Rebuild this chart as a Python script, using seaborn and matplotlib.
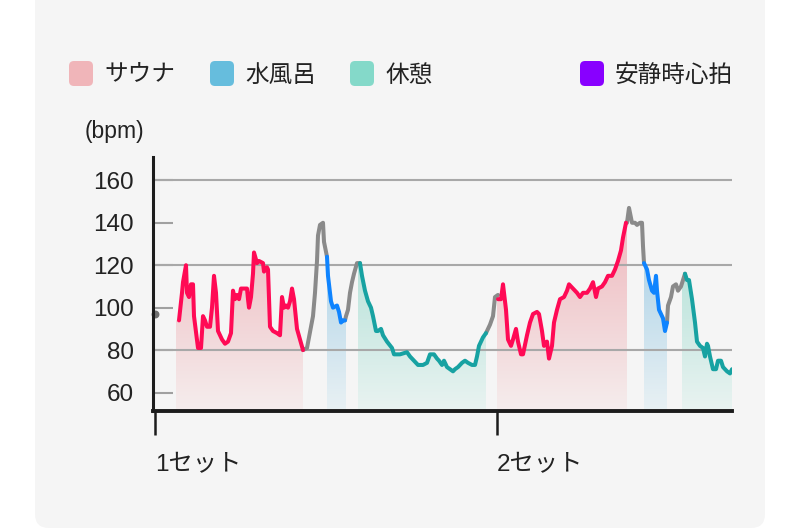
import numpy as np
import pandas as pd
import matplotlib
matplotlib.use("Agg")
import matplotlib.pyplot as plt
import seaborn as sns
from matplotlib.patches import FancyBboxPatch
from matplotlib.colors import to_rgb

# ---------------- data ----------------
start_t = [0]
start_bpm = [97]

sauna1_t = [24, 27, 28, 31, 32, 34, 36, 38, 39, 43, 46, 48, 50, 52, 55, 57, 59, 61, 63, 67, 70, 73, 76, 78,
            80, 82, 84, 86, 92, 93, 94, 96, 98, 99, 102, 104, 108, 109, 112, 113, 115, 118, 122, 125, 127,
            129, 131, 133, 135, 137, 139, 142, 145, 148]
sauna1_bpm = [94, 107, 112, 120, 107, 105, 111, 111, 96, 81, 81, 96, 94, 91, 91, 100, 115, 107, 89, 85, 83, 84,
              88, 108, 104, 106, 104, 109, 109, 104, 100, 105, 116, 126, 121, 122, 121, 117, 119, 118, 91, 89,
              88, 87, 105, 100, 101, 100, 103, 109, 104, 90, 85, 80]
gray1_t = [148, 152, 156, 158, 160, 162, 163, 165, 168, 169, 172]
gray1_bpm = [80, 81, 91, 96, 107, 122, 134, 139, 140, 131, 124]
water1_t = [172, 173, 176, 178, 182, 184, 186, 188, 190]
water1_bpm = [124, 115, 103, 100, 101, 98, 93, 94, 94]
gray2_t = [190, 191, 193, 195, 197, 199, 202, 205]
gray2_bpm = [94, 96, 99, 107, 112, 116, 121, 121]
rest1_t = [205, 207, 210, 213, 216, 218, 221, 223, 226, 228, 232, 237, 239, 245, 252, 255, 259, 263, 268, 272,
           275, 279, 282, 284, 287, 289, 292, 295, 298, 300, 303, 307, 310, 313, 317, 320, 322, 324, 328, 331]
rest1_bpm = [121, 115, 108, 103, 100, 96, 89, 89, 90, 87, 84, 81, 78, 78, 79, 77, 75, 73, 73, 74,
             78, 78, 76, 75, 73, 75, 72, 71, 70, 71, 72, 74, 75, 74, 73, 73, 77, 82, 86, 88]
gray3_t = [331, 335, 338, 340, 343]
gray3_bpm = [88, 92, 96, 105, 106]
sauna2_t = [343, 346, 348, 351, 353, 356, 358, 361, 363, 366, 368, 372, 375, 378, 382, 384, 387, 389, 392, 394,
            397, 399, 402, 405, 409, 412, 414, 418, 422, 425, 428, 432, 435, 438, 441, 443, 447, 450, 453, 457,
            460, 463, 466, 468, 471]
sauna2_bpm = [104, 104, 111, 99, 85, 82, 85, 90, 84, 78, 78, 87, 93, 97, 98, 97, 89, 82, 84, 76,
              82, 93, 99, 104, 105, 108, 111, 109, 107, 105, 107, 107, 109, 112, 105, 109, 110, 112, 115, 115,
              118, 122, 127, 133, 140]
gray4_t = [471, 472, 474, 477, 480, 482, 485, 487, 488, 489]
gray4_bpm = [140, 140, 147, 140, 140, 139, 140, 140, 129, 121]
water2_t = [489, 492, 494, 497, 499, 501, 502, 504, 508, 510, 512]
water2_bpm = [121, 118, 113, 108, 107, 115, 108, 99, 95, 89, 93]
gray5_t = [512, 513, 516, 518, 521, 523, 526, 528, 530]
gray5_bpm = [93, 101, 105, 110, 111, 108, 110, 113, 116]
rest2_t = [530, 532, 534, 537, 540, 542, 545, 548, 550, 552, 553, 555, 558, 561, 563, 566, 568, 572, 575, 577]
rest2_bpm = [116, 113, 113, 104, 93, 84, 82, 81, 77, 83, 82, 77, 71, 71, 75, 75, 72, 70, 69, 71]

phase_fill_start = [21, 172, 203, 342, 489, 527]
phase_fill_end = [148, 191, 331, 472, 512, 577]
phase_fill_kind = ["sauna", "water", "rest", "sauna", "water", "rest"]

set_ticks = [0, 342]
set_labels = ["1セット", "2セット"]
y_ticks = [60, 80, 100, 120, 140, 160]
y_grid = [80, 120, 160]

legend_labels = ["サウナ", "水風呂", "休憩", "安静時心拍"]
legend_colors = ["#f0b5b9", "#66bddd", "#84d9c9", "#8800ff"]

# ---------------- styling ----------------
line_colors = {"sauna": "#ff0a55", "water": "#0f84ff", "rest": "#17a2a2", "gray": "#8a8a8a"}
grad_top = {"sauna": "#f0c2c6", "water": "#b0d4e8", "rest": "#b6e2d9"}
grad_bot = {"sauna": "#f5eded", "water": "#e9f1f4", "rest": "#e9f3f1"}

segments = [("sauna", sauna1_t, sauna1_bpm), ("gray", gray1_t, gray1_bpm),
            ("water", water1_t, water1_bpm), ("gray", gray2_t, gray2_bpm),
            ("rest", rest1_t, rest1_bpm), ("gray", gray3_t, gray3_bpm),
            ("sauna", sauna2_t, sauna2_bpm), ("gray", gray4_t, gray4_bpm),
            ("water", water2_t, water2_bpm), ("gray", gray5_t, gray5_bpm),
            ("rest", rest2_t, rest2_bpm)]

rows = []
for i, (kind, ts, vs) in enumerate(segments):
    for t, v in zip(ts, vs):
        rows.append({"t": t, "bpm": v, "kind": kind, "seg": i})
df = pd.DataFrame(rows)
full = df.drop_duplicates("t").sort_values("t")
full_t = full["t"].to_numpy(float)
full_v = full["bpm"].to_numpy(float)

sns.set_theme(style="white")
plt.rcParams['font.family'] = ['Liberation Sans', 'Noto Sans CJK JP', 'DejaVu Sans']
TXT = "#222222"

fig = plt.figure(figsize=(8, 5.3), dpi=100)
fig.patch.set_facecolor("white")
card = FancyBboxPatch((35, 2), 730, 560, boxstyle="round,pad=0,rounding_size=14",
                      transform=None, facecolor="#f5f5f5", edgecolor="none", zorder=-10)
fig.add_artist(card)

ax = fig.add_axes([153 / 800, 119 / 530, 579 / 800, 254 / 530])
ax.set_zorder(2)
ax.set_facecolor("none")
ax.patch.set_alpha(0)
Y0, Y1 = 51.3, 171.0
X0, X1 = -2, 577

# gradient fills
for t0, t1, kind in zip(phase_fill_start, phase_fill_end, phase_fill_kind):
    tt = np.linspace(t0, t1, 400)
    vv = np.interp(tt, full_t, full_v)
    poly = ax.fill_between(tt, Y0, vv, facecolor="none", edgecolor="none")
    levels = np.linspace(Y0, 150, 256)
    frac = np.clip((levels - Y0) / (125 - Y0), 0, 1)[:, None]
    cols = (1 - frac) * np.array(to_rgb(grad_bot[kind])) + frac * np.array(to_rgb(grad_top[kind]))
    img = cols[:, None, :]
    im = ax.imshow(img, extent=[t0, t1, Y0, 150], origin="lower", aspect="auto",
                   zorder=1, interpolation="bilinear")
    im.set_clip_path(poly.get_paths()[0], transform=ax.transData)

# grid lines
for g in y_grid:
    ax.axhline(g, color="#a8a8a8", lw=1.5, zorder=1.5)

# lines
for i, (kind, ts, vs) in enumerate(segments):
    sub = df[df["seg"] == i]
    sns.lineplot(data=sub, x="t", y="bpm", ax=ax, color=line_colors[kind], lw=2.9,
                 sort=False, estimator=None, zorder=3 if kind != "gray" else 2.8)
ax.scatter(start_t, start_bpm, s=22, color="#707070", zorder=4, clip_on=False)

ax.set_xlim(X0, X1)
ax.set_ylim(Y0, Y1)
ax.set_xlabel("")
ax.set_ylabel("")

for s in ["top", "right"]:
    ax.spines[s].set_visible(False)
ax.spines["left"].set_color("#1c1c1c")
ax.spines["left"].set_linewidth(2.2)
ax.spines["bottom"].set_color("#1c1c1c")
ax.spines["bottom"].set_linewidth(2.8)
ax.spines["left"].set_zorder(5)
ax.spines["bottom"].set_zorder(5)

ax.set_yticks(y_ticks)
ax.set_yticklabels([str(v) for v in y_ticks], fontsize=17.5, color=TXT)
ax.tick_params(axis="y", direction="in", length=14.5, width=1.5, color="#a0a0a0", pad=14, left=True)

ax.set_xticks(set_ticks)
ax.set_xticklabels(set_labels, fontsize=17.5, color=TXT, ha="left",
                   family=['Liberation Sans', 'Noto Sans CJK JP'])
ax.tick_params(axis="x", direction="out", length=17, width=1.8, color="#1c1c1c", pad=14, bottom=True)
ax.set_xticks([set_ticks[1]], minor=True)
ax.tick_params(axis="x", which="minor", direction="in", length=13, width=1.8, color="#1c1c1c", bottom=True)

fig.text(85 / 800, 1 - 131 / 530, "(bpm)", fontsize=16.5, color=TXT, ha="left", va="center")

# legend
leg_patch_x = [69, 210, 350, 580]
for lx, lab, c in zip(leg_patch_x, legend_labels, legend_colors):
    p = FancyBboxPatch((lx, 530 - 86), 24, 25, boxstyle="round,pad=0,rounding_size=5",
                       transform=None, facecolor=c, edgecolor="none", zorder=1)
    fig.add_artist(p)
    fig.text((lx + 35) / 800, 1 - 75 / 530, lab, fontsize=17, color=TXT, ha="left", va="center",
             family=['Noto Sans CJK JP', 'DejaVu Sans'])

fig.savefig("out.png", dpi=100, facecolor="white")
